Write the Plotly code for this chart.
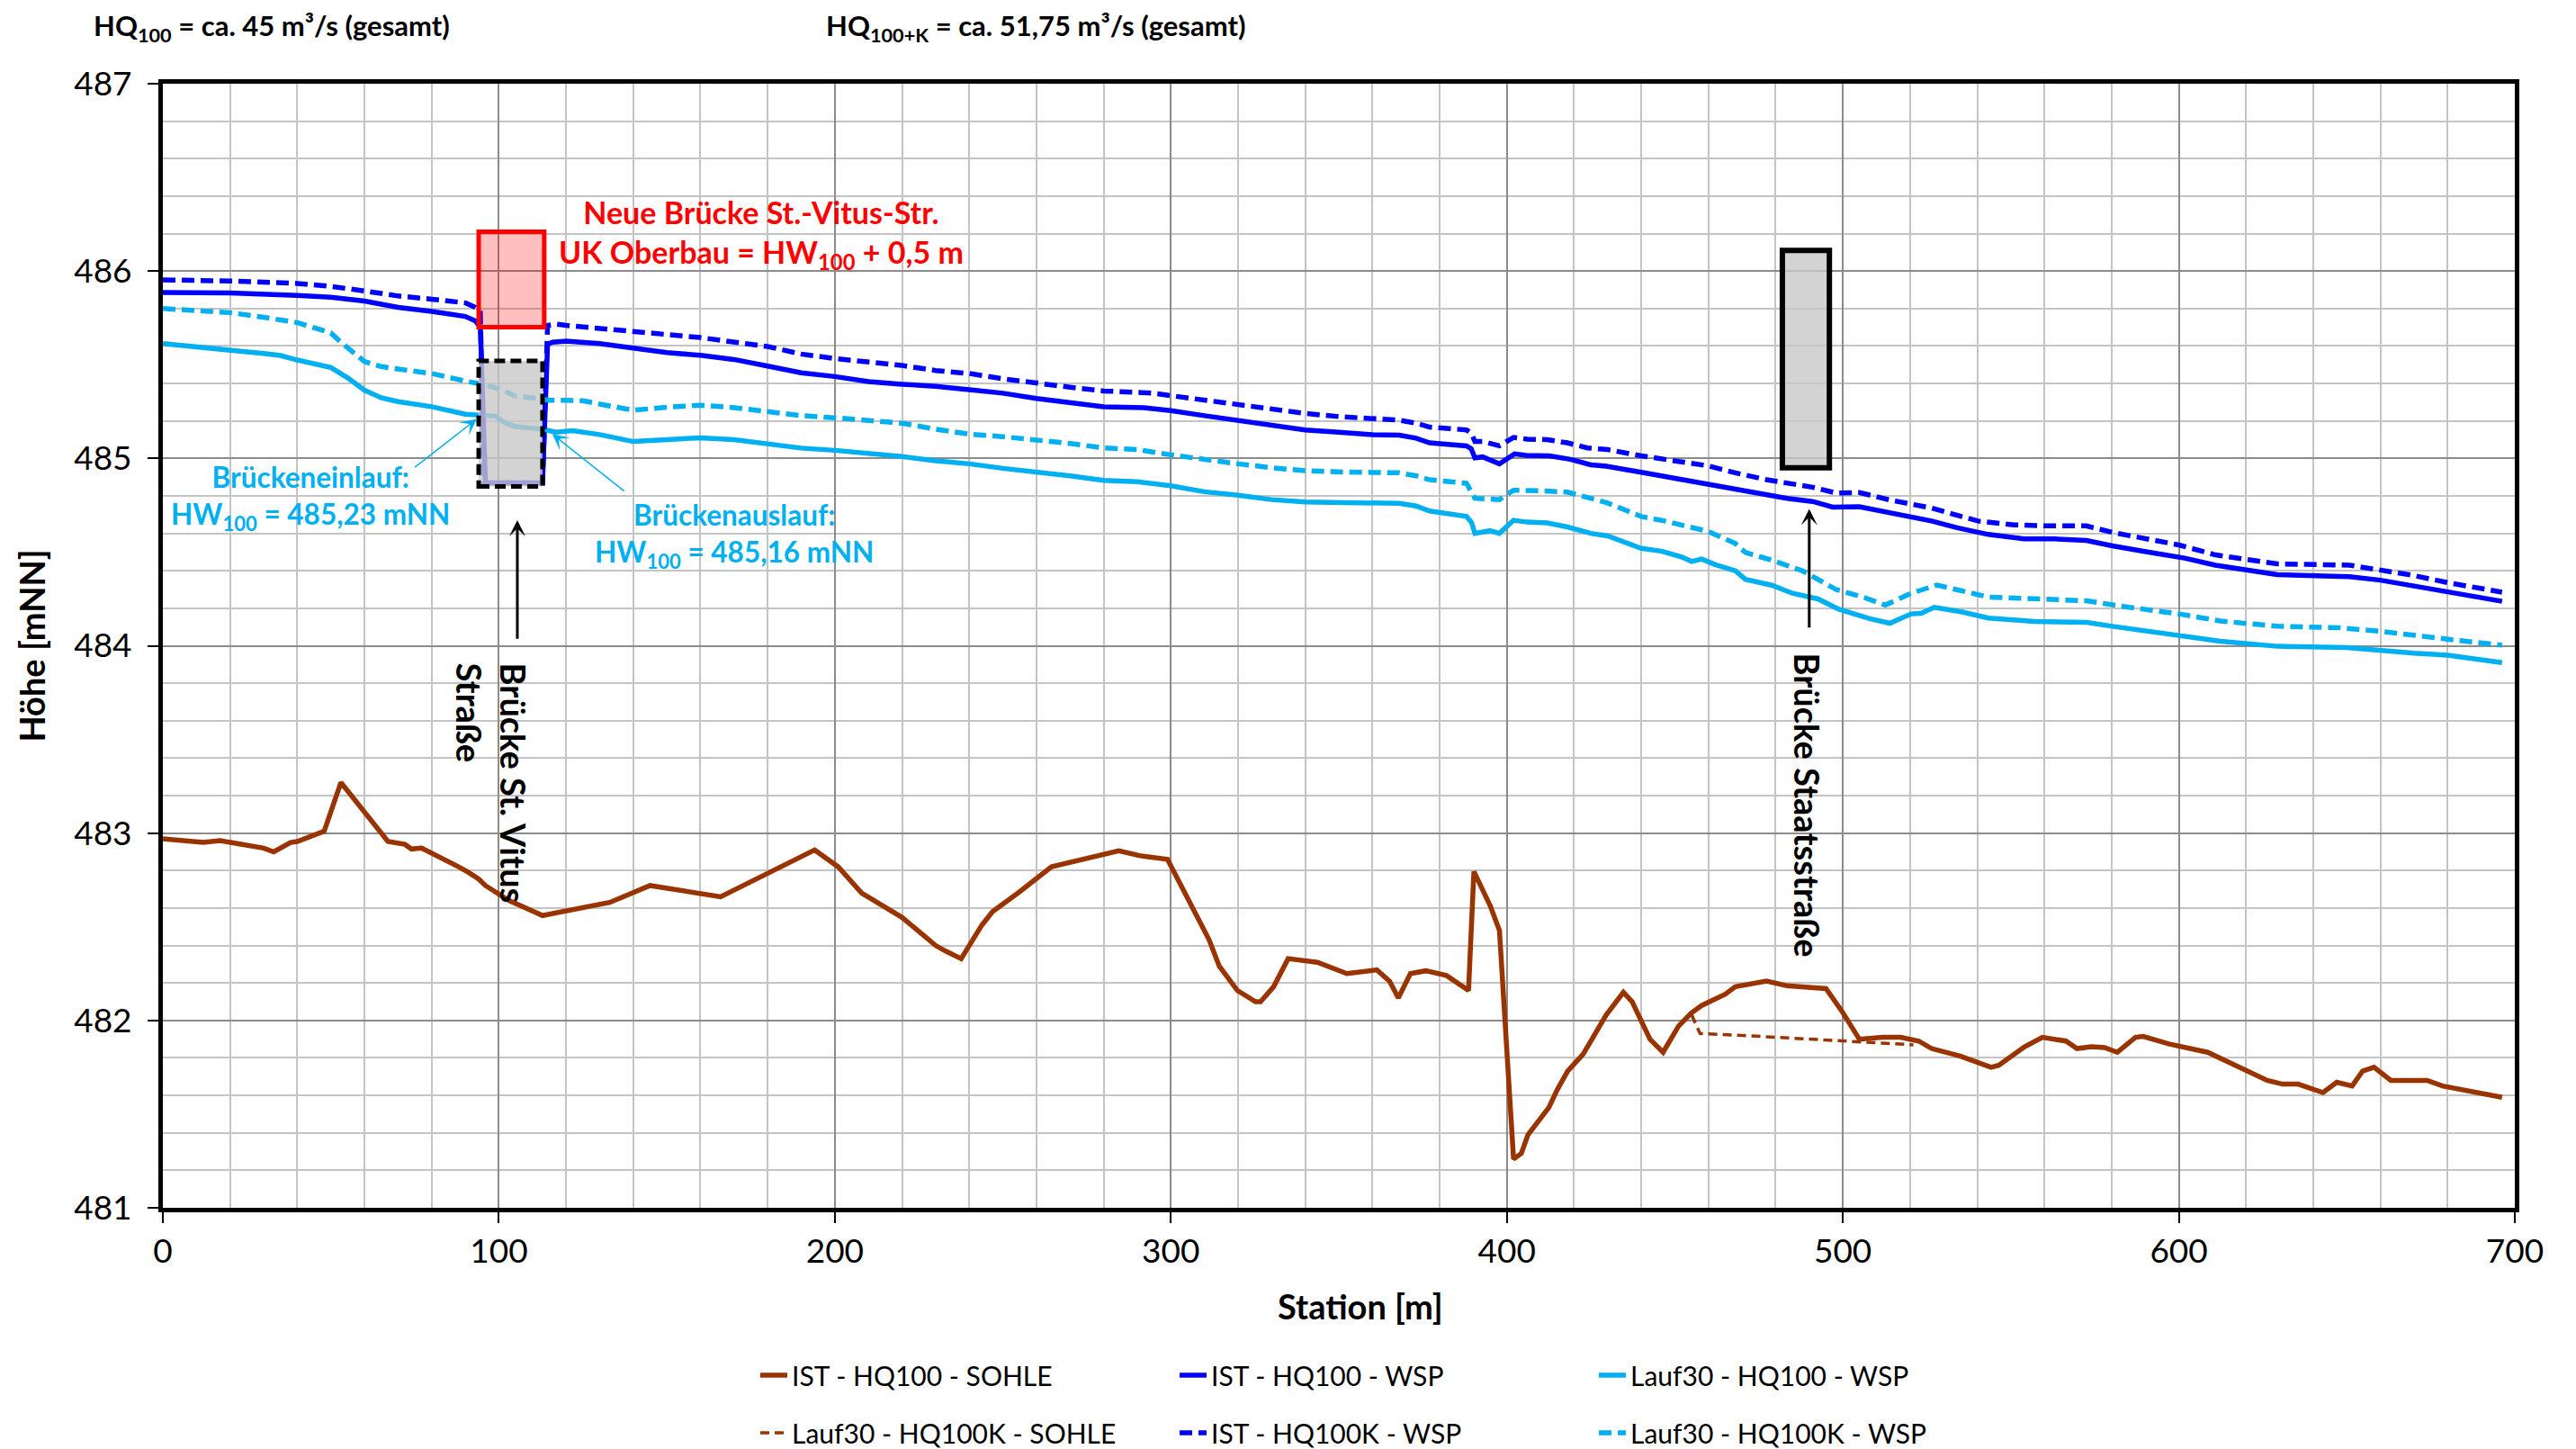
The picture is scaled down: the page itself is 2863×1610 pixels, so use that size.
import plotly.graph_objects as go

# ---------------- data ----------------
sohle_ist_x = [0, 6, 12, 17, 30, 33, 38, 40, 48, 53, 67, 72, 74, 77, 84, 88, 91, 94, 96, 103, 113, 133, 145, 166,
               194, 201, 208, 220, 225, 230, 233, 237.6, 243.8, 246.9, 254.5, 264.5, 284.5, 290.6, 299, 304.5,
               311.4, 314.4, 319.8, 325.2, 326.7, 330.6, 334.9, 343.6, 346.7, 352.4, 361.3, 365.1, 367.7, 371.3,
               375.9, 382, 388.6, 390.2, 395.1, 397.8, 402, 404.3, 406.3, 409.7, 412.5, 415, 418.1, 422.7, 429.6,
               434.7, 437.3, 442.6, 446.5, 451.1, 454.9, 458, 461.9, 465, 468, 471, 477.3, 483.4, 488, 495, 499.7,
               504.9, 511.8, 517.2, 522.6, 526.4, 534.9, 544.1, 546.4, 554.1, 559.4, 564, 566.4, 569.7, 574, 577.9,
               581.7, 587.1, 589.4, 597, 608.6, 626.3, 630.9, 635.5, 638.6, 642.9, 647, 651.6, 654.7, 658.1, 663.1,
               673.9, 678.5, 696.2]
sohle_ist_y = [482.97, 482.96, 482.95, 482.96, 482.92, 482.90, 482.95, 482.955, 483.01, 483.27, 482.955, 482.94,
               482.915, 482.92, 482.86, 482.82, 482.79, 482.755, 482.72, 482.64, 482.56, 482.63, 482.72, 482.66,
               482.91, 482.82, 482.68, 482.55, 482.475, 482.40, 482.37, 482.33, 482.51, 482.58, 482.68, 482.82,
               482.905, 482.88, 482.86, 482.67, 482.43, 482.29, 482.16, 482.10, 482.10, 482.18, 482.33, 482.31,
               482.29, 482.25, 482.27, 482.21, 482.12, 482.25, 482.265, 482.24, 482.16, 482.795, 482.61, 482.48,
               481.26, 481.29, 481.39, 481.47, 481.535, 481.63, 481.73, 481.82, 482.03, 482.15, 482.10, 481.90,
               481.83, 481.97, 482.04, 482.08, 482.11, 482.14, 482.18, 482.19, 482.21, 482.185, 482.18, 482.17,
               482.05, 481.90, 481.91, 481.91, 481.89, 481.85, 481.81, 481.75, 481.76, 481.86, 481.91, 481.90,
               481.89, 481.85, 481.86, 481.855, 481.83, 481.91, 481.915, 481.875, 481.83, 481.68, 481.66, 481.66,
               481.64, 481.615, 481.67, 481.65, 481.73, 481.75, 481.68, 481.68, 481.65, 481.59]

sohle_lauf30_x = [455, 457.5, 470, 490, 505, 521]
sohle_lauf30_y = [482.03, 481.93, 481.92, 481.90, 481.885, 481.87]

wsp_ist_x = [0, 20, 40, 50, 60, 70, 80, 90, 93, 94.5, 96, 113, 114.5, 116, 120, 130, 140, 150, 160, 170, 180, 190,
             200, 210, 220, 230, 240, 250, 260, 270, 280, 292, 300, 310, 320, 330, 340, 350, 360, 368, 373, 377,
             383.6, 388, 389.4, 390.5, 392.8, 397.8, 402.3, 405.8, 412.7, 418.9, 425, 429.6, 440, 449.6, 457.3,
             468, 471, 477.3, 483.4, 491, 497, 504.9, 514, 526.4, 534, 543.3, 554, 563.3, 572.5, 580.2, 591,
             601.7, 610.9, 621.7, 629.3, 643.2, 650.8, 660, 669.3, 680, 696.2]
wsp_ist_y = [485.886, 485.883, 485.87, 485.86, 485.84, 485.806, 485.785, 485.758, 485.734, 485.70, 484.87, 484.87,
             485.61, 485.62, 485.626, 485.613, 485.589, 485.565, 485.55, 485.528, 485.493, 485.457, 485.437,
             485.41, 485.396, 485.385, 485.367, 485.348, 485.32, 485.295, 485.276, 485.271, 485.255, 485.228,
             485.204, 485.175, 485.152, 485.14, 485.127, 485.124, 485.108, 485.083, 485.075, 485.067, 485.051,
             485.003, 485.008, 484.971, 485.024, 485.016, 485.014, 484.995, 484.966, 484.958, 484.926, 484.896,
             484.87, 484.838, 484.827, 484.806, 484.787, 484.77, 484.74, 484.742, 484.71, 484.666, 484.63,
             484.594, 484.57, 484.57, 484.562, 484.533, 484.50, 484.468, 484.43, 484.404, 484.38, 484.372,
             484.369, 484.35, 484.32, 484.284, 484.237]

wsp_ist_k_x = [0, 20, 40, 50, 60, 70, 80, 90, 93, 94.5, 95.5, 113, 114.5, 117, 120, 140, 160, 180, 190, 200, 210,
               220, 230, 240, 250, 260, 270, 280, 290, 295, 300, 310, 320, 330, 340, 350, 360, 368, 373, 377, 383,
               388, 389.5, 390.5, 393, 397.8, 402, 406, 412, 418, 424, 430, 440, 450, 460, 468, 477.3, 491, 498,
               504.9, 514, 526.4, 540.2, 551, 560.2, 572.5, 580.2, 600, 610.9, 629.3, 643.2, 650.8, 660, 669.3,
               680, 696.2]
wsp_ist_k_y = [485.953, 485.947, 485.934, 485.918, 485.894, 485.867, 485.85, 485.83, 485.806, 485.78, 484.87,
               484.87, 485.71, 485.717, 485.71, 485.677, 485.645, 485.597, 485.557, 485.533, 485.517, 485.496,
               485.469, 485.453, 485.425, 485.40, 485.38, 485.36, 485.353, 485.348, 485.335, 485.31, 485.284,
               485.26, 485.24, 485.223, 485.212, 485.204, 485.188, 485.167, 485.159, 485.152, 485.132, 485.09,
               485.09, 485.067, 485.112, 485.103, 485.10, 485.083, 485.056, 485.047, 485.014, 484.984, 484.96,
               484.923, 484.886, 484.846, 484.815, 484.818, 484.778, 484.735, 484.666, 484.645, 484.64, 484.64,
               484.605, 484.538, 484.485, 484.437, 484.43, 484.43, 484.404, 484.377, 484.337, 484.286]

wsp_l30_x = [0, 10, 20, 30, 35, 40, 50, 55, 60, 65, 70, 80, 90, 94, 97, 99, 102, 105, 113, 117, 122, 130, 140, 150,
             160, 170, 180, 190, 200, 210, 220, 230, 240, 250, 260, 270, 280, 290, 300, 310, 320, 330, 340, 350,
             360, 368, 373, 377, 388, 389.5, 390.5, 395, 397.8, 402, 406, 412, 418, 425, 430, 436, 440, 446, 452,
             455, 458, 462, 468, 471, 478.8, 485, 492.6, 498.8, 508, 514, 520.3, 523.3, 527.2, 535.6, 543.3,
             557.1, 572.5, 580.2, 600, 612.4, 629.3, 650, 670, 680, 696.2]
wsp_l30_y = [485.613, 485.597, 485.581, 485.56, 485.549, 485.525, 485.485, 485.43, 485.364, 485.324, 485.303,
             485.276, 485.236, 485.228, 485.228, 485.225, 485.188, 485.17, 485.156, 485.14, 485.148, 485.127,
             485.09, 485.10, 485.11, 485.10, 485.08, 485.055, 485.043, 485.027, 485.01, 484.987, 484.971,
             484.947, 484.93, 484.907, 484.883, 484.875, 484.854, 484.822, 484.803, 484.78, 484.767, 484.764,
             484.76, 484.76, 484.746, 484.719, 484.69, 484.658, 484.60, 484.614, 484.60, 484.67, 484.66, 484.656,
             484.634, 484.60, 484.586, 484.546, 484.52, 484.505, 484.474, 484.45, 484.463, 484.433, 484.40,
             484.355, 484.323, 484.28, 484.25, 484.195, 484.145, 484.12, 484.17, 484.173, 484.205, 484.18,
             484.148, 484.13, 484.125, 484.104, 484.056, 484.024, 483.997, 483.99, 483.96, 483.95, 483.91]

wsp_l30_k_x = [0, 10, 20, 30, 40, 50, 53, 60, 65, 70, 80, 90, 95, 100, 105, 110, 115, 120, 125, 130, 140, 150,
               160, 170, 180, 190, 200, 220, 230, 240, 250, 260, 270, 280, 290, 300, 310, 320, 330, 340, 350, 360,
               368, 373, 377, 388, 390.5, 397.8, 402, 410, 418, 425, 430, 440, 447, 460, 465, 468, 471, 478.8,
               488, 498, 506.5, 512.6, 520.3, 528, 543.3, 563.3, 572.5, 583.3, 600, 612.4, 629.3, 647.8, 660,
               680, 696.2]
wsp_l30_k_y = [485.80, 485.79, 485.778, 485.753, 485.725, 485.67, 485.62, 485.517, 485.49, 485.477, 485.453,
               485.413, 485.396, 485.372, 485.332, 485.324, 485.31, 485.31, 485.308, 485.29, 485.257, 485.273,
               485.284, 485.271, 485.252, 485.228, 485.217, 485.188, 485.156, 485.13, 485.116, 485.10, 485.08,
               485.056, 485.047, 485.019, 484.992, 484.971, 484.95, 484.934, 484.928, 484.926, 484.923, 484.907,
               484.886, 484.867, 484.787, 484.78, 484.83, 484.827, 484.82, 484.787, 484.762, 484.69, 484.666,
               484.61, 484.57, 484.546, 484.498, 484.457, 484.40, 484.30, 484.257, 484.217, 484.28, 484.324,
               484.26, 484.25, 484.24, 484.21, 484.17, 484.132, 484.104, 484.096, 484.077, 484.035, 484.003]

# bridge geometry (station / height)
bruecke_neu_x = [94, 113.5]
bruecke_neu_y = [485.70, 486.21]
bruecke_vitus_x = [94, 113]
bruecke_vitus_y = [484.85, 485.52]
bruecke_staat_x = [482, 496]
bruecke_staat_y = [484.95, 486.11]

FONT = "Lato"
BROWN = "#993300"
BLUE = "#0000FF"
CYAN = "#00B0F0"
RED = "#FF0000"
DASH = "14px,7px"
LW = 5.5

fig = go.Figure()

fig.add_trace(go.Scatter(x=sohle_ist_x, y=sohle_ist_y, mode="lines", name="IST - HQ100 - SOHLE",
                         line=dict(color=BROWN, width=LW), legend="legend"))
fig.add_trace(go.Scatter(x=wsp_ist_x, y=wsp_ist_y, mode="lines", name="IST - HQ100 - WSP",
                         line=dict(color=BLUE, width=LW), legend="legend"))
fig.add_trace(go.Scatter(x=wsp_l30_x, y=wsp_l30_y, mode="lines", name="Lauf30 - HQ100 - WSP",
                         line=dict(color=CYAN, width=LW), legend="legend"))
fig.add_trace(go.Scatter(x=sohle_lauf30_x, y=sohle_lauf30_y, mode="lines", name="Lauf30 - HQ100K - SOHLE",
                         line=dict(color=BROWN, width=3.5, dash="10px,6px"), legend="legend2"))
fig.add_trace(go.Scatter(x=wsp_ist_k_x, y=wsp_ist_k_y, mode="lines", name="IST - HQ100K - WSP",
                         line=dict(color=BLUE, width=LW, dash=DASH), legend="legend2"))
fig.add_trace(go.Scatter(x=wsp_l30_k_x, y=wsp_l30_k_y, mode="lines", name="Lauf30 - HQ100K - WSP",
                         line=dict(color=CYAN, width=LW, dash=DASH), legend="legend2"))

# bridge boxes
fig.add_shape(type="rect", xref="x", yref="y", x0=bruecke_neu_x[0], x1=bruecke_neu_x[1],
              y0=bruecke_neu_y[0], y1=bruecke_neu_y[1], line=dict(color=RED, width=5),
              fillcolor="rgba(255,0,0,0.25)", layer="above")
fig.add_shape(type="rect", xref="x", yref="y", x0=bruecke_vitus_x[0], x1=bruecke_vitus_x[1],
              y0=bruecke_vitus_y[0], y1=bruecke_vitus_y[1], line=dict(color="black", width=5, dash="12px,6px"),
              fillcolor="rgba(200,200,200,0.8)", layer="above")
fig.add_shape(type="rect", xref="x", yref="y", x0=bruecke_staat_x[0], x1=bruecke_staat_x[1],
              y0=bruecke_staat_y[0], y1=bruecke_staat_y[1], line=dict(color="black", width=6),
              fillcolor="rgba(200,200,200,0.8)", layer="above")

ann = []
# header
ann.append(dict(xref="paper", yref="paper", x=-0.0302, y=1.0504, xanchor="left", yanchor="middle",
                text="<b>HQ<sub>100</sub> = ca. 45 m³/s (gesamt)</b>", showarrow=False,
                font=dict(size=31, color="black", family=FONT)))
ann.append(dict(xref="paper", yref="paper", x=0.2812, y=1.0504, xanchor="left", yanchor="middle",
                text="<b>HQ<sub>100+K</sub> = ca. 51,75 m³/s (gesamt)</b>", showarrow=False,
                font=dict(size=31, color="black", family=FONT)))
# axis titles
ann.append(dict(xref="paper", yref="paper", x=0.5092, y=-0.0873, xanchor="center", yanchor="middle",
                text="<b>Station [m]</b>", showarrow=False, font=dict(size=38, color="black", family=FONT)))
ann.append(dict(xref="paper", yref="paper", x=-0.0562, y=0.5, xanchor="center", yanchor="middle",
                text="<b>Höhe [mNN]</b>", textangle=-90, showarrow=False,
                font=dict(size=38, color="black", family=FONT)))
# red bridge text
ann.append(dict(xref="x", yref="y", x=178, y=486.2, xanchor="center", yanchor="middle", align="center",
                text="<b>Neue Brücke St.-Vitus-Str.<br>UK Oberbau = HW<sub>100</sub> + 0,5 m</b>",
                showarrow=False, font=dict(size=34, color=RED, family=FONT)))
# cyan labels
ann.append(dict(xref="x", yref="y", x=44, y=484.79, xanchor="center", yanchor="middle", align="center",
                text="<b>Brückeneinlauf:<br>HW<sub>100</sub> = 485,23 mNN</b>",
                showarrow=False, font=dict(size=31.5, color=CYAN, family=FONT)))
ann.append(dict(xref="x", yref="y", x=170, y=484.59, xanchor="center", yanchor="middle", align="center",
                text="<b>Brückenauslauf:<br>HW<sub>100</sub> = 485,16 mNN</b>",
                showarrow=False, font=dict(size=31.5, color=CYAN, family=FONT)))
# cyan arrows
ann.append(dict(xref="x", yref="y", axref="x", ayref="y", x=93.4, y=485.21, ax=74.6, ay=484.947,
                text="", showarrow=True, arrowhead=3, arrowsize=2, arrowwidth=1.5, arrowcolor=CYAN))
ann.append(dict(xref="x", yref="y", axref="x", ayref="y", x=115.9, y=485.13, ax=137.7, ay=484.82,
                text="", showarrow=True, arrowhead=3, arrowsize=2, arrowwidth=1.5, arrowcolor=CYAN))
# black arrows
ann.append(dict(xref="x", yref="y", axref="x", ayref="y", x=105.5, y=484.67, ax=105.5, ay=484.03,
                text="", showarrow=True, arrowhead=3, arrowsize=1, arrowwidth=3, arrowcolor="black"))
ann.append(dict(xref="x", yref="y", axref="x", ayref="y", x=490, y=484.73, ax=490, ay=484.09,
                text="", showarrow=True, arrowhead=3, arrowsize=1, arrowwidth=3, arrowcolor="black"))
# rotated bridge labels
ann.append(dict(xref="x", yref="y", x=98, y=483.265, xanchor="center", yanchor="middle", align="left",
                text="<b>Brücke St. Vitus<br>Straße</b>", textangle=90, showarrow=False,
                font=dict(size=38, color="black", family=FONT)))
ann.append(dict(xref="x", yref="y", x=489.5, y=483.15, xanchor="center", yanchor="middle", align="left",
                text="<b>Brücke Staatsstraße</b>", textangle=90, showarrow=False,
                font=dict(size=38, color="black", family=FONT)))

axis_common = dict(showline=True, linecolor="black", linewidth=5, mirror=True,
                   ticks="outside", ticklen=12, tickwidth=2, tickcolor="black",
                   showgrid=True, gridcolor="#8c8c8c", gridwidth=2, zeroline=False,
                   tickfont=dict(size=37, color="black", family=FONT))

fig.update_layout(
    width=2863, height=1610,
    margin=dict(l=173, r=76, t=85, b=276, autoexpand=False),
    paper_bgcolor="white", plot_bgcolor="white",
    font=dict(family=FONT, color="black"),
    annotations=ann,
    xaxis=dict(range=[0, 700], tick0=0, dtick=100,
               minor=dict(dtick=20, showgrid=True, gridcolor="#c4c4c4", gridwidth=2), **axis_common),
    yaxis=dict(range=[481, 487], tick0=481, dtick=1, ticklabelstandoff=10,
               minor=dict(dtick=0.2, showgrid=True, gridcolor="#c4c4c4", gridwidth=2), **axis_common),
    legend=dict(orientation="h", x=0.2521, xanchor="left", y=-0.1489, yanchor="middle",
                entrywidth=421, entrywidthmode="pixels", font=dict(size=30, family=FONT, color="black"),
                bgcolor="rgba(0,0,0,0)", traceorder="normal"),
    legend2=dict(orientation="h", x=0.2521, xanchor="left", y=-0.2002, yanchor="middle",
                 entrywidth=421, entrywidthmode="pixels", font=dict(size=30, family=FONT, color="black"),
                 bgcolor="rgba(0,0,0,0)", traceorder="normal"),
    showlegend=True,
)

fig.write_html("out.html")
